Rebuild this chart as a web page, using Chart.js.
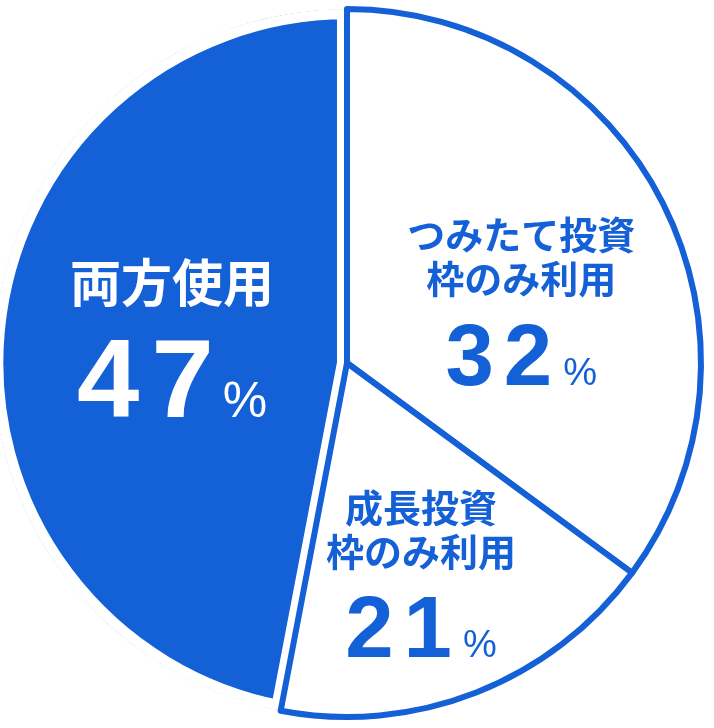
<!DOCTYPE html>
<html lang="ja">
<head>
<meta charset="utf-8">
<title>NISA 利用枠</title>
<script src="https://cdn.jsdelivr.net/npm/chart.js@4.4.1/dist/chart.umd.min.js"></script>
<style>
  html, body { margin: 0; padding: 0; background: #fff; }
  #wrap { width: 714px; height: 728px; position: relative; }
</style>
</head>
<body>
<div id="wrap"><canvas id="chart"></canvas></div>
<script>
// 利用枠の割合 (%)
const categories = ['両方使用', 'つみたて投資枠のみ利用', '成長投資枠のみ利用'];
const titleLines = [['両方使用'], ['つみたて投資', '枠のみ利用'], ['成長投資', '枠のみ利用']];
const shares = [47, 32, 21];          // 表示されている数値
const sliceSizes = [47, 35.1, 17.9];  // 図で描かれている扇形の大きさ (角度から読み取り)

const BLUE = '#1460d6';
const total = sliceSizes.reduce((a, b) => a + b, 0);

// ラベルの位置・サイズ (半径に対する比率)
const labelStyle = [
  { ax: -0.494, ay: -0.226, title: 51, lh: 56, num: 112, pct: 50, numDy: 134, gap: 9, color: '#fff' },
  { ax: 0.492, ay: -0.364, title: 38, lh: 44, num: 87, pct: 38, numDy: 151, gap: 11, color: BLUE },
  { ax: 0.209, ay: 0.407, title: 38, lh: 44, num: 87, pct: 38, numDy: 150, gap: 11, color: BLUE }
];

const JP = '"Noto Sans CJK JP", "Noto Sans", sans-serif';
const NUM = '"Liberation Sans", Arial, sans-serif';

function drawSpaced(ctx, text, x, y, spacing){
  let w = 0;
  for (const ch of text) {
    ctx.fillText(ch, x + w, y);
    w += ctx.measureText(ch).width + spacing;
  }
}
function spacedWidth(ctx, text, spacing){
  let w = 0;
  for (const ch of text) w += ctx.measureText(ch).width + spacing;
  return w - spacing;
}

const sliceLabels = {
  id: 'sliceLabels',
  afterDatasetsDraw(chart){
    const { ctx } = chart;
    const arcs = chart.getDatasetMeta(0).data;
    arcs.forEach((arc, i) => {
      const s = labelStyle[i];
      const r = arc.outerRadius;
      const cx = arc.x + s.ax * r;
      const cy = arc.y + s.ay * r;
      ctx.save();
      ctx.fillStyle = s.color;
      ctx.textAlign = 'center';
      ctx.textBaseline = 'middle';
      ctx.font = `bold ${s.title}px ${JP}`;
      titleLines[i].forEach((line, k) => ctx.fillText(line, cx, cy + k * s.lh));

      // 数字 + %
      const numText = String(shares[i]);
      ctx.textAlign = 'left';
      ctx.textBaseline = 'alphabetic';
      ctx.font = `bold ${s.num}px ${NUM}`;
      const sp = Math.round(s.num * 0.11);
      const nw = spacedWidth(ctx, numText, sp);
      ctx.font = `${s.pct}px ${NUM}`;
      const pw = ctx.measureText('%').width;
      const x0 = cx - (nw + s.gap + pw) / 2;
      const by = cy + s.numDy;
      ctx.font = `bold ${s.num}px ${NUM}`;
      drawSpaced(ctx, numText, x0, by, sp);
      ctx.font = `${s.pct}px ${NUM}`;
      ctx.fillText('%', x0 + nw + s.gap, by);
      ctx.restore();
    });
  }
};

new Chart(document.getElementById('chart'), {
  type: 'pie',
  data: {
    labels: categories,
    datasets: [{
      data: sliceSizes,
      backgroundColor: [BLUE, '#ffffff', '#ffffff'],
      borderColor: ['#ffffff', BLUE, BLUE],
      borderWidth: [10, 6, 6],
      borderAlign: ['inner', 'center', 'center'],
      borderJoinStyle: 'round',
      rotation: 360 * (1 - sliceSizes[0] / total),
      radius: 354
    }]
  },
  options: {
    responsive: true,
    maintainAspectRatio: false,
    animation: false,
    events: [],
    layout: { padding: { left: 0, right: 20, top: 0, bottom: 2 } },
    plugins: {
      legend: { display: false },
      tooltip: { enabled: false }
    }
  },
  plugins: [sliceLabels]
});
</script>
</body>
</html>
